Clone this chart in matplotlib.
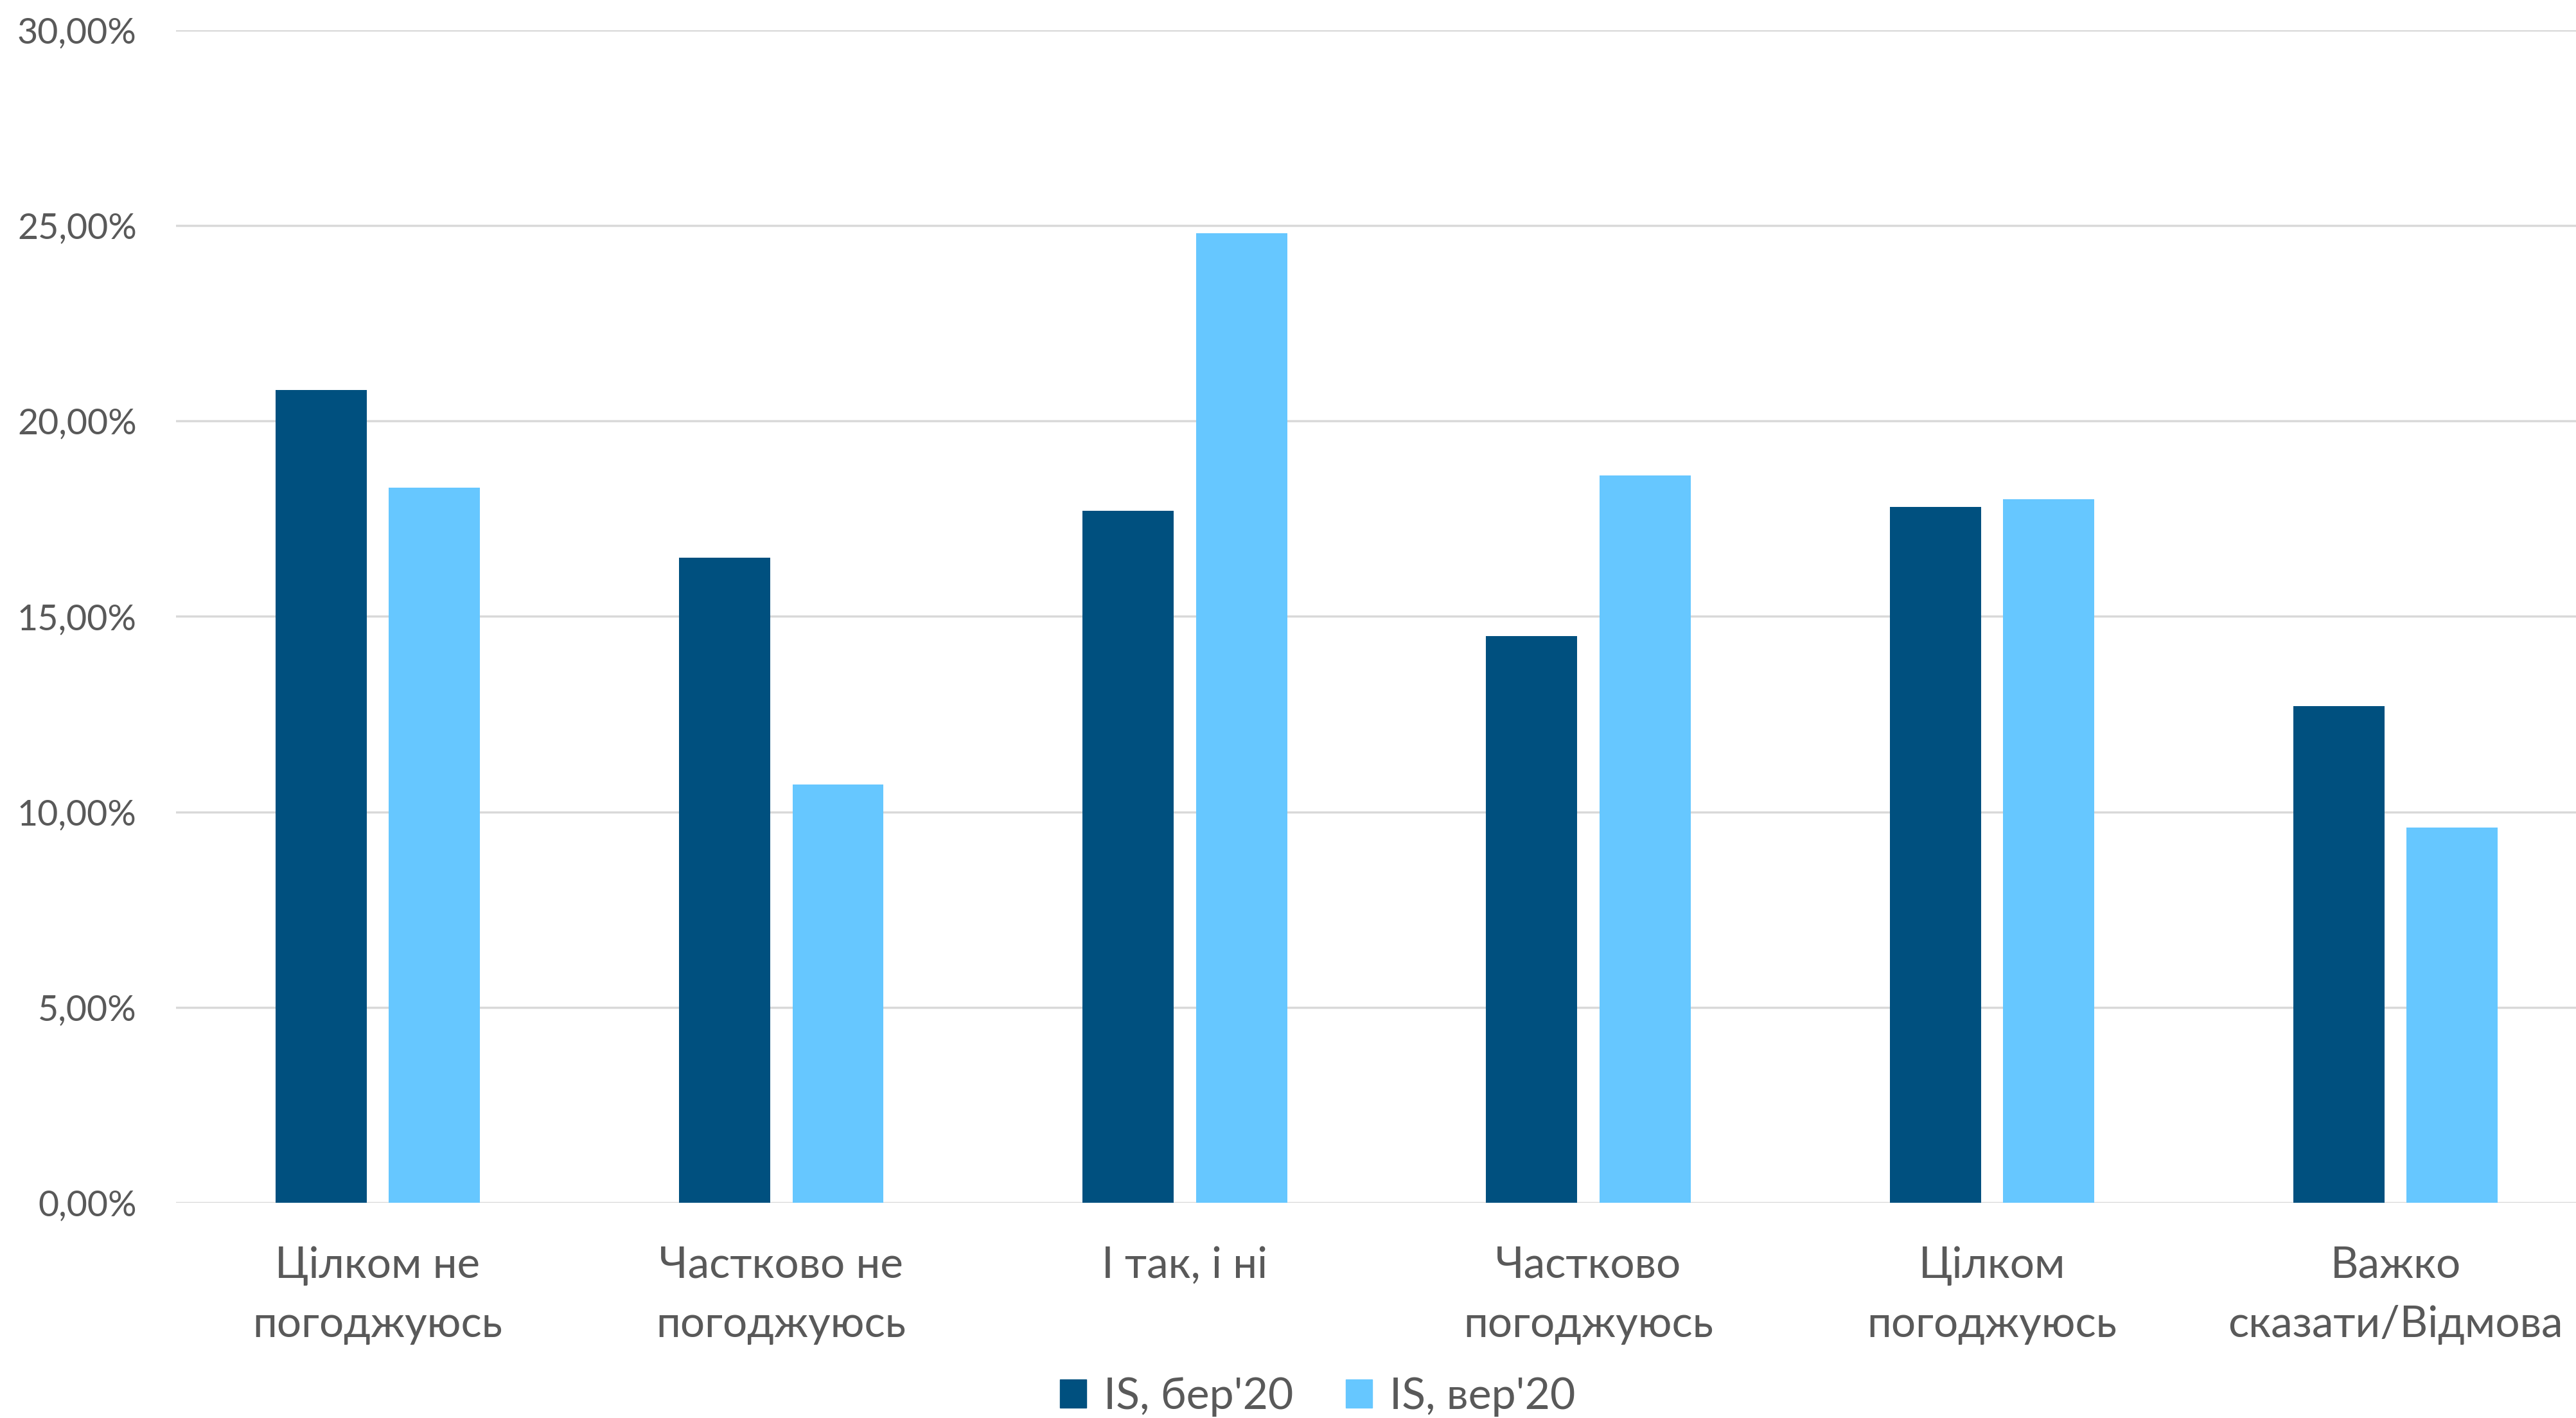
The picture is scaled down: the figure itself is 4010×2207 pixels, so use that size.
import matplotlib
matplotlib.use("Agg")
import matplotlib.pyplot as plt
import numpy as np
from matplotlib.patches import Patch
from matplotlib.ticker import FuncFormatter

categories = ["Цілком не\nпогоджуюсь", "Частково не\nпогоджуюсь", "І так, і ні",
              "Частково\nпогоджуюсь", "Цілком\nпогоджуюсь", "Важко\nсказати/Відмова"]
series_names = ["IS, бер'20", "IS, вер'20"]
values_mar = [20.8, 16.5, 17.7, 14.5, 17.8, 12.7]
values_sep = [18.3, 10.7, 24.8, 18.6, 18.0, 9.6]
yticks = [0, 5, 10, 15, 20, 25, 30]

dark = "#00507F"
light = "#66C7FF"
txt = "#595959"

plt.rcParams['font.family'] = ['Lato', 'DejaVu Sans']

fig = plt.figure(figsize=(40.10, 22.07), dpi=100)
ax = fig.add_axes([0.0683, 0.1518, 0.94, 0.827])

x = np.arange(len(categories))
w = 0.226
off = 0.1405
ax.bar(x - off, values_mar, width=w, color=dark, zorder=3)
ax.bar(x + off, values_sep, width=w, color=light, zorder=3)

ax.set_xlim(-0.5, len(categories) - 0.5)
ax.set_ylim(0, 30)
ax.set_yticks(yticks)
ax.yaxis.set_major_formatter(FuncFormatter(lambda v, p: f"{v:.2f}%".replace(".", ",")))
ax.grid(axis='y', color="#D9D9D9", linewidth=2.5, zorder=0)
ax.set_axisbelow(True)
for s in ax.spines.values():
    s.set_visible(False)
ax.tick_params(axis='y', length=0, pad=44, labelsize=40, labelcolor=txt)
ax.set_xticks(x)
ax.set_xticklabels(categories, fontsize=48.5, color=txt, linespacing=1.6)
ax.tick_params(axis='x', length=0, pad=48)

handles = [Patch(color=dark, label=series_names[0]), Patch(color=light, label=series_names[1])]
fig.legend(handles=handles, loc='center', bbox_to_anchor=(0.5115, 0.015), ncol=2,
           frameon=False, fontsize=49, labelcolor=txt, handlelength=0.6, handleheight=0.6,
           handletextpad=0.4, columnspacing=1.2)

fig.savefig("out.png", dpi=100, facecolor="white")
